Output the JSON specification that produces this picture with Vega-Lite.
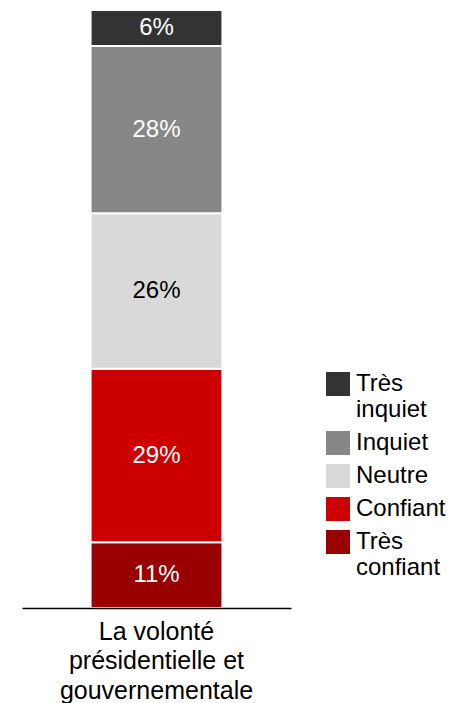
{
  "$schema": "https://vega.github.io/schema/vega-lite/v6.json",
  "width": 269,
  "height": 598,
  "padding": {"left": 22, "top": 9, "right": 0, "bottom": 0},
  "config": {"view": {"stroke": null}, "font": "Liberation Sans"},
  "data": {"values": [
    {"cat": "La volonté présidentielle et gouvernementale", "niveau": "Très confiant", "rang": 1, "pct": 0.11},
    {"cat": "La volonté présidentielle et gouvernementale", "niveau": "Confiant", "rang": 2, "pct": 0.29},
    {"cat": "La volonté présidentielle et gouvernementale", "niveau": "Neutre", "rang": 3, "pct": 0.26},
    {"cat": "La volonté présidentielle et gouvernementale", "niveau": "Inquiet", "rang": 4, "pct": 0.28},
    {"cat": "La volonté présidentielle et gouvernementale", "niveau": "Très inquiet", "rang": 5, "pct": 0.06}
  ]},
  "transform": [
    {"stack": "pct", "groupby": ["cat"], "sort": [{"field": "rang", "order": "ascending"}], "as": ["y0", "y1"]},
    {"calculate": "(datum.y0 + datum.y1) / 2", "as": "ymid"}
  ],
  "encoding": {
    "x": {"field": "cat", "type": "nominal",
      "scale": {"paddingInner": 0, "paddingOuter": 0.52},
      "axis": {"title": null, "labelAngle": 0, "labelFontSize": 25, "labelColor": "#000000", "labelPadding": 11, "labelLineHeight": 29.5, "ticks": false, "domainColor": "#000000", "domainWidth": 1.5, "labelLimit": 0, "zindex": 1,
        "labelExpr": "['La volonté', 'présidentielle et', 'gouvernementale']"}
    }
  },
  "layer": [
    {
      "mark": {"type": "bar", "stroke": "#ffffff", "strokeWidth": 2},
      "encoding": {
        "y": {"field": "y0", "type": "quantitative", "scale": {"domain": [0, 1]}, "axis": null},
        "y2": {"field": "y1"},
        "color": {"field": "niveau", "type": "nominal",
          "scale": {"domain": ["Très inquiet", "Inquiet", "Neutre", "Confiant", "Très confiant"],
                    "range": ["#333333", "#878787", "#d9d9d9", "#cc0000", "#990000"]},
          "legend": {"title": null, "orient": "none", "legendX": 304, "legendY": 362,
            "symbolType": "square", "symbolSize": 576, "symbolStrokeWidth": 0, "symbolOpacity": 1,
            "labelFontSize": 24, "labelColor": "#000000", "labelLimit": 0, "labelOffset": 6, "labelLineHeight": 31, "rowPadding": 9,
            "labelExpr": "datum.label == 'Très inquiet' ? ['Très', 'inquiet'] : datum.label == 'Très confiant' ? ['Très', 'confiant'] : datum.label"}
        }
      }
    },
    {
      "mark": {"type": "text", "fontSize": 24, "baseline": "middle"},
      "encoding": {
        "y": {"field": "ymid", "type": "quantitative", "scale": {"domain": [0, 1]}},
        "text": {"field": "pct", "type": "quantitative", "format": ".0%"},
        "color": {"condition": {"test": "datum.niveau == 'Neutre'", "value": "#000000"}, "value": "#ffffff"}
      }
    }
  ]
}
